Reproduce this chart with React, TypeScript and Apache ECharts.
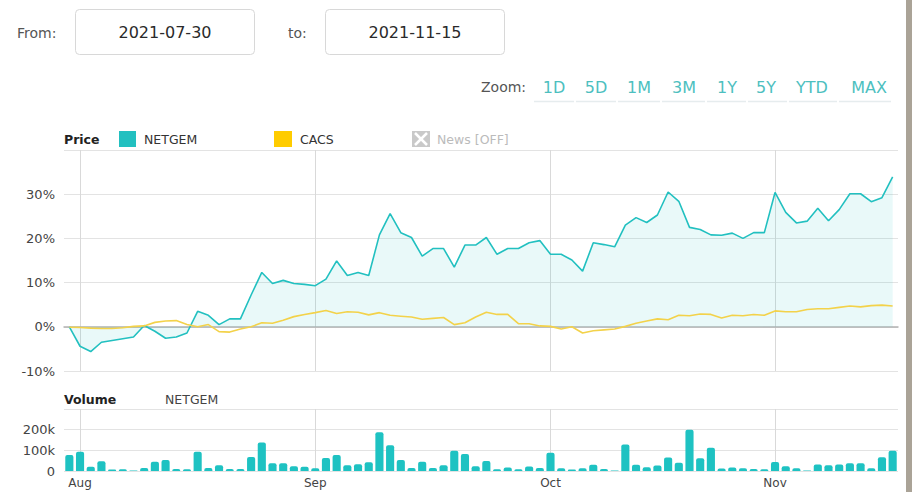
import React, { useEffect, useRef } from "react";
import * as echarts from "echarts";

const dates = [
  "2021-07-30",
  "2021-08-02", "2021-08-03", "2021-08-04", "2021-08-05", "2021-08-06",
  "2021-08-09", "2021-08-10", "2021-08-11", "2021-08-12", "2021-08-13",
  "2021-08-16", "2021-08-17", "2021-08-18", "2021-08-19", "2021-08-20",
  "2021-08-23", "2021-08-24", "2021-08-25", "2021-08-26", "2021-08-27",
  "2021-08-30", "2021-08-31",
  "2021-09-01", "2021-09-02", "2021-09-03",
  "2021-09-06", "2021-09-07", "2021-09-08", "2021-09-09", "2021-09-10",
  "2021-09-13", "2021-09-14", "2021-09-15", "2021-09-16", "2021-09-17",
  "2021-09-20", "2021-09-21", "2021-09-22", "2021-09-23", "2021-09-24",
  "2021-09-27", "2021-09-28", "2021-09-29", "2021-09-30",
  "2021-10-01",
  "2021-10-04", "2021-10-05", "2021-10-06", "2021-10-07", "2021-10-08",
  "2021-10-11", "2021-10-12", "2021-10-13", "2021-10-14", "2021-10-15",
  "2021-10-18", "2021-10-19", "2021-10-20", "2021-10-21", "2021-10-22",
  "2021-10-25", "2021-10-26", "2021-10-27", "2021-10-28", "2021-10-29",
  "2021-11-01", "2021-11-02", "2021-11-03", "2021-11-04", "2021-11-05",
  "2021-11-08", "2021-11-09", "2021-11-10", "2021-11-11", "2021-11-12",
  "2021-11-15", "2021-11-16",
];

const monthStarts = ["2021-08-02", "2021-09-01", "2021-10-01", "2021-11-01"];
const monthLabels = ["Aug", "Sep", "Oct", "Nov"];

const netgem = [
  0, -4.4, -5.6, -3.5, -3.1, -2.7, -2.3, 0.3, -1.0, -2.6,
  -2.3, -1.4, 3.5, 2.6, 0.5, 1.8, 1.8, 7.2, 12.3, 9.8,
  10.5, 9.8, 9.6, 9.3, 10.8, 14.9, 11.6, 12.3, 11.6, 20.8,
  25.6, 21.3, 20.2, 16.0, 17.7, 17.7, 13.5, 18.5, 18.5, 20.2,
  16.4, 17.7, 17.7, 19.0, 19.5, 16.4, 16.4, 15.1, 12.6, 19.0,
  18.6, 18.1, 23.0, 24.7, 23.6, 25.3, 30.5, 28.4, 22.5, 22.0,
  20.8, 20.7, 21.2, 20.0, 21.3, 21.3, 30.4, 25.9, 23.5, 23.9,
  26.8, 24.0, 26.5, 30.1, 30.1, 28.3, 29.2, 33.9,
];

const cacs = [
  -0.1, -0.15, -0.3, -0.4, -0.4, -0.2, 0.1, 0.2, 1.0, 1.3,
  1.4, 0.5, 0, 0.5, -1.1, -1.2, -0.5, 0, 0.9, 0.8,
  1.5, 2.3, 2.8, 3.2, 3.7, 3.0, 3.4, 3.3, 2.7, 3.2,
  2.6, 2.4, 2.2, 1.7, 1.9, 2.1, 0.5, 0.9, 2.2, 3.3,
  2.8, 2.8, 0.7, 0.7, 0.2, 0.1, -0.5, 0, -1.4, -0.9,
  -0.7, -0.5, 0.1, 0.8, 1.3, 1.8, 1.6, 2.6, 2.5, 2.9,
  2.8, 2.0, 2.6, 2.5, 2.8, 2.6, 3.6, 3.4, 3.4, 3.9,
  4.1, 4.1, 4.4, 4.7, 4.5, 4.8, 4.9, 4.7,
];

const volume = [
  77000, 93000, 20000, 47000, 7000, 8000, 3000, 15000, 45000, 53000,
  10000, 8000, 93000, 15000, 28000, 10000, 10000, 68000, 138000, 37000,
  37000, 23000, 20000, 13000, 63000, 77000, 28000, 33000, 42000, 187000,
  125000, 53000, 15000, 45000, 15000, 28000, 98000, 82000, 23000, 48000,
  8000, 17000, 8000, 22000, 15000, 88000, 13000, 7000, 13000, 30000,
  10000, 2000, 128000, 30000, 18000, 27000, 65000, 40000, 200000, 62000,
  113000, 12000, 17000, 13000, 10000, 8000, 43000, 23000, 13000, 3000,
  32000, 28000, 32000, 37000, 37000, 13000, 67000, 98000,
];

const priceTicks = [-10, 0, 10, 20, 30];
const volumeTicks = [0, 100000, 200000];
const zoomButtons = ["1D", "5D", "1M", "3M", "1Y", "5Y", "YTD", "MAX"];
const fromDate = "2021-07-30";
const toDate = "2021-11-15";

const FONT = "DejaVu Sans";
const TEAL = "#22c0c0";
const YELLOW = "#f3d24a";

export default function App() {
  const ref = useRef<HTMLDivElement>(null);

  useEffect(() => {
    if (!ref.current) return;
    const chart = echarts.init(ref.current, undefined, { renderer: "svg" });
    const monthIdx = new Set(monthStarts.map((d) => dates.indexOf(d)));
    const isMonth = (i: number) => monthIdx.has(i);

    const btnX = [554, 596, 639, 684, 727, 766, 812, 869];
    const gaps = [533, 575, 617, 661, 706, 747, 788, 838, 892];

    const graphic: any[] = [
      { type: "rect", shape: { x: 906, y: 0, width: 6, height: 492 }, style: { fill: "#aaa397" }, silent: true },
      { type: "text", style: { text: "From:", x: 17, y: 33, fill: "#555", fontSize: 14, fontFamily: FONT, textVerticalAlign: "middle" } },
      { type: "rect", shape: { x: 75.5, y: 9.5, width: 179, height: 45, r: 4 }, style: { fill: "#fff", stroke: "#d8d8d8", lineWidth: 1 } },
      { type: "text", style: { text: fromDate, x: 165, y: 32, fill: "#2a2a2a", fontSize: 16, fontFamily: FONT, textAlign: "center", textVerticalAlign: "middle" } },
      { type: "text", style: { text: "to:", x: 288, y: 33, fill: "#555", fontSize: 14, fontFamily: FONT, textVerticalAlign: "middle" } },
      { type: "rect", shape: { x: 325.5, y: 9.5, width: 179, height: 45, r: 4 }, style: { fill: "#fff", stroke: "#d8d8d8", lineWidth: 1 } },
      { type: "text", style: { text: toDate, x: 415, y: 32, fill: "#2a2a2a", fontSize: 16, fontFamily: FONT, textAlign: "center", textVerticalAlign: "middle" } },
      { type: "text", style: { text: "Zoom:", x: 481, y: 87, fill: "#555", fontSize: 14, fontFamily: FONT, textVerticalAlign: "middle" } },
      // legend
      { type: "text", style: { text: "Price", x: 64, y: 139, fill: "#222", fontSize: 12.5, fontWeight: "bold", fontFamily: FONT, textVerticalAlign: "middle" } },
      { type: "rect", shape: { x: 119, y: 131, width: 17, height: 16 }, style: { fill: TEAL } },
      { type: "text", style: { text: "NETGEM", x: 144, y: 139, fill: "#333", fontSize: 12.5, fontFamily: FONT, textVerticalAlign: "middle" } },
      { type: "rect", shape: { x: 274, y: 131, width: 18, height: 16 }, style: { fill: "#ffcc00" } },
      { type: "text", style: { text: "CACS", x: 300, y: 139, fill: "#333", fontSize: 12.5, fontFamily: FONT, textVerticalAlign: "middle" } },
      { type: "rect", shape: { x: 412, y: 131, width: 18, height: 16 }, style: { fill: "#c9c9c9" } },
      { type: "line", shape: { x1: 415, y1: 133, x2: 427, y2: 145 }, style: { stroke: "#fff", lineWidth: 2.5 } },
      { type: "line", shape: { x1: 427, y1: 133, x2: 415, y2: 145 }, style: { stroke: "#fff", lineWidth: 2.5 } },
      { type: "text", style: { text: "News [OFF]", x: 437, y: 139, fill: "#bbb", fontSize: 12.5, fontFamily: FONT, textVerticalAlign: "middle" } },
      { type: "text", style: { text: "Volume", x: 64, y: 399, fill: "#222", fontSize: 12.5, fontWeight: "bold", fontFamily: FONT, textVerticalAlign: "middle" } },
      { type: "text", style: { text: "NETGEM", x: 165, y: 399, fill: "#444", fontSize: 12.5, fontFamily: FONT, textVerticalAlign: "middle" } },
    ];
    zoomButtons.forEach((b, i) => {
      graphic.push({
        type: "text",
        style: { text: b, x: btnX[i], y: 87, fill: "#4dbfbf", fontSize: 16, fontFamily: FONT, textAlign: "center", textVerticalAlign: "middle" },
      });
      graphic.push({
        type: "line",
        shape: { x1: gaps[i] + 1, y1: 101.5, x2: gaps[i + 1] - 1, y2: 101.5 },
        style: { stroke: "#e6ecee", lineWidth: 1.5 },
      });
    });

    const option: any = {
      animation: false,
      backgroundColor: "#ffffff",
      textStyle: { fontFamily: FONT },
      graphic,
      grid: [
        { left: 64, right: 14, top: 150, height: 221 },
        { left: 64, right: 14, top: 409, height: 62 },
      ],
      xAxis: [
        {
          type: "category",
          gridIndex: 0,
          data: dates,
          boundaryGap: true,
          axisLine: { show: true, onZero: true, lineStyle: { color: "#b3b3b3", width: 1.5 } },
          axisTick: { show: false, alignWithLabel: true, interval: isMonth },
          axisLabel: { show: false, interval: isMonth },
          splitLine: { show: true, interval: isMonth, alignWithLabel: true, lineStyle: { color: "#d9d9d9", width: 1 } },
        },
        {
          type: "category",
          gridIndex: 1,
          data: dates,
          boundaryGap: true,
          axisLine: { show: false },
          axisTick: { show: false, alignWithLabel: true, interval: isMonth },
          axisLabel: {
            show: true,
            interval: isMonth,
            color: "#444",
            fontSize: 12,
            fontFamily: FONT,
            margin: 6,
            formatter: (v: string) => {
              const k = monthStarts.indexOf(v);
              return k >= 0 ? monthLabels[k] : "";
            },
          },
          splitLine: { show: true, interval: isMonth, alignWithLabel: true, lineStyle: { color: "#d9d9d9", width: 1 } },
        },
      ],
      yAxis: [
        {
          type: "value",
          gridIndex: 0,
          min: -10,
          max: 40,
          interval: 10,
          axisLine: { show: false },
          axisTick: { show: false },
          axisLabel: {
            color: "#444",
            fontSize: 13,
            fontFamily: FONT,
            margin: 9,
            formatter: (v: number) => (priceTicks.includes(v) ? `${v}%` : ""),
          },
          splitLine: { show: true, lineStyle: { color: "#e3e3e3", width: 1 } },
        },
        {
          type: "value",
          gridIndex: 1,
          min: 0,
          max: 300000,
          interval: 100000,
          axisLine: { show: false },
          axisTick: { show: false },
          axisLabel: {
            color: "#444",
            fontSize: 13,
            fontFamily: FONT,
            margin: 9,
            formatter: (v: number) => (volumeTicks.includes(v) ? (v === 0 ? "0" : `${v / 1000}k`) : ""),
          },
          splitLine: { show: true, lineStyle: { color: "#e3e3e3", width: 1 } },
        },
      ],
      series: [
        {
          name: "NETGEM",
          type: "line",
          xAxisIndex: 0,
          yAxisIndex: 0,
          data: netgem,
          showSymbol: false,
          color: TEAL,
          lineStyle: { color: TEAL, width: 1.6 },
          areaStyle: { color: "rgba(34,192,192,0.14)" },
          z: 3,
        },
        {
          name: "CACS",
          type: "line",
          xAxisIndex: 0,
          yAxisIndex: 0,
          data: cacs,
          showSymbol: false,
          color: YELLOW,
          lineStyle: { color: YELLOW, width: 1.6 },
          z: 4,
        },
        {
          name: "Volume",
          type: "bar",
          xAxisIndex: 1,
          yAxisIndex: 1,
          data: volume,
          barWidth: "76%",
          itemStyle: { color: "#1ec2c2", borderRadius: [2, 2, 0, 0] },
        },
      ],
    };
    chart.setOption(option);
    return () => chart.dispose();
  }, []);

  return (
    <div
      ref={ref}
      style={{ position: "absolute", left: 0, top: 0, width: 912, height: 492 }}
    />
  );
}
